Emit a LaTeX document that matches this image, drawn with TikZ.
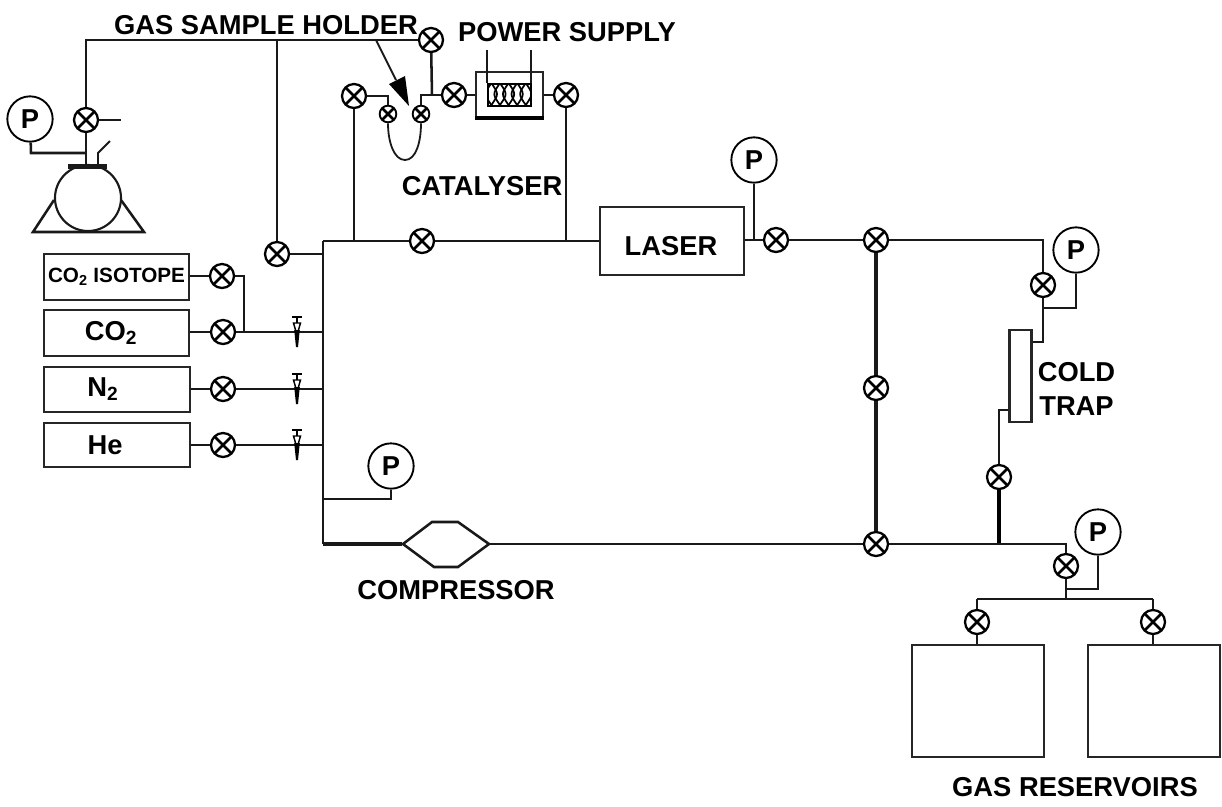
\documentclass[tikz,border=0pt]{standalone}
\usepackage{fontspec}
\setmainfont{Liberation Sans}
\usetikzlibrary{calc}
\newcommand{\lbl}{\fontsize{20.5}{24}\selectfont\bfseries}
\newcommand{\sm}{\fontsize{15.5}{18}\selectfont\bfseries}
\newcommand{\subt}[1]{\textsubscript{#1}}
\tikzset{
  x=0.75pt,y=-0.75pt,
  pipe/.style={draw=black!90,line width=1.9pt,line join=miter},
  thinpipe/.style={draw=black!90,line width=1.35pt},
  fatpipe/.style={draw=black!90,line width=2.6pt},
  box/.style={draw=black!85,line width=1.8pt,inner sep=0pt,fill=white},
  valve/.style={circle,draw=black,line width=1.7pt,fill=white,inner sep=0pt,minimum size=18pt,
    path picture={\draw[line width=1.9pt] (path picture bounding box.north west)--(path picture bounding box.south east)
      (path picture bounding box.north east)--(path picture bounding box.south west);}},
  smallvalve/.style={valve,minimum size=12.5pt,line width=1.4pt},
  gauge/.style={circle,draw=black,line width=1.4pt,fill=white,inner sep=0pt,minimum size=34pt,font=\fontsize{20.5}{24}\selectfont\bfseries},
  lab/.style={inner sep=0pt,font=\lbl},
  needle/.pic={
    \draw[line width=1.4pt] (-5,-15)--(5,-15) (0,-15)--(0,-9);
    \draw[line width=1.1pt,fill=white] (-3.5,-9)--(3.5,-9)--(0,3)--cycle;
    \fill[black] (-2.8,-2)--(2.8,-2)--(1,15)--(-1,15)--cycle;
  }
}
\begin{document}
\begin{tikzpicture}
\useasboundingbox (0,0) rectangle (1222,807);
\fill[white] (0,0) rectangle (1222,807);

% valves
\node[valve] (vtank) at (86,120) {};
\node[valve] (vtop) at (431,40) {};
\node[valve] (vleft) at (277,254) {};
\node[valve] (vcat) at (354,96) {};
\node[smallvalve] (sa) at (388,114) {};
\node[smallvalve] (sb) at (421,114) {};
\node[valve] (vin) at (454,95) {};
\node[valve] (vout) at (566,95) {};
\node[valve] (vmain) at (422,241) {};
\node[valve] (vlaser) at (776,240) {};
\node[valve] (vna) at (876,240) {};
\node[valve] (vnb) at (876,388) {};
\node[valve] (vnc) at (876,544) {};
\node[valve] (vtrapa) at (1043,285) {};
\node[valve] (vtrapb) at (999,477) {};
\node[valve] (vres) at (1066,566) {};
\node[valve] (vra) at (977,622) {};
\node[valve] (vrb) at (1153,622) {};
\node[valve] (viso) at (222,276) {};
\node[valve] (vco) at (223,332) {};
\node[valve] (vnn) at (223,389) {};
\node[valve] (vhe) at (223,445) {};

% gauges
\node[gauge] (pa) at (30,119) {P};
\node[gauge] (pb) at (754,160) {P};
\node[gauge] (pc) at (1076,250) {P};
\node[gauge] (pd) at (1098,532) {P};
\node[gauge] (pe) at (391,466) {P};

% boxes
\node[box,minimum width=108.75pt,minimum height=34.5pt,font=\sm] (biso) at (116.5,277) {CO\subt{2} ISOTOPE};
\node[box,minimum width=108.75pt,minimum height=34.5pt] (bco) at (116.5,333) {};
\node[box,minimum width=109.5pt,minimum height=33.75pt] (bnn) at (117,389.5) {};
\node[box,minimum width=109.5pt,minimum height=33pt] (bhe) at (117,445) {};
\node[lab] (tco) at (111,333) {CO\subt{2}};
\node[lab] (tnn) at (103,389) {N\subt{2}};
\node[lab] (the) at (105,445) {He};
\node[box,minimum width=108pt,minimum height=51pt] (laser) at (672,241) {};
\node[lab] (tlaser) at (671,246) {LASER};
\node[box,minimum width=50.25pt,minimum height=33.75pt] (cat) at (509.5,94.5) {};
\node[box,minimum width=16.5pt,minimum height=69pt] (trap) at (1020.5,376) {};
\node[box,minimum width=99pt,minimum height=84pt] (resa) at (978,701) {};
\node[box,minimum width=99pt,minimum height=84pt] (resb) at (1154,701) {};

% catalyser interior
\draw[black,line width=2.6pt] (cat.south west)--(cat.south east);
\node[draw=black,line width=1.4pt,minimum width=32.25pt,minimum height=16.5pt,inner sep=0pt,fill=white] (cati) at (509.5,95) {};
\begin{scope}
  \clip (cati.south west) rectangle (cati.north east);
  \foreach \k in {0,1,...,4}{
    \draw[black,line width=1.3pt] ($(cati.north west)+(4.3+\k*8.6,0)$) .. controls +(7.5,11) .. +(0,22);
    \draw[black,line width=1.3pt] ($(cati.north west)+(4.3+\k*8.6,0)$) .. controls +(-7.5,11) .. +(0,22);
  }
\end{scope}
\coordinate (wa) at (487,50);
\coordinate (wb) at (531,50);
\draw[thinpipe] (wa)--(wa|-cati.north) (wb)--(wb|-cati.north);

% tank
\coordinate (tankc) at (88,198);
\draw[pipe] (54,200)--(33,232)--(144,232)--(121,200);
\filldraw[fill=white,draw=black!90,line width=1.6pt] (tankc) circle (33);
\fill[black!90] (68,164)--(107,164)--(107,169)--(68,169)--cycle;
\coordinate (ttop) at (86,165);
\coordinate (tcor) at (31,153);
\coordinate (tjun) at (86,153);
\coordinate (stub) at (121,120);
\draw[pipe] (vtank)--(ttop);
\draw[pipe] (pa)--(tcor)--(tjun);
\draw[thinpipe] (vtank)--(stub);
\draw[thinpipe] (98,165)--(98,153)--(110,141);

% top line
\coordinate (ctl) at (86,40);
\coordinate (jleft) at (277,40);
\coordinate (jcat) at (432,95);
\draw[pipe] (vtank)--(ctl)--(jleft)--(vtop);
\draw[thinpipe] (jleft)--(vleft);
\draw[pipe] (vtop)--(jcat);

% gas sample holder pipes
\coordinate (sac) at (388,96);
\coordinate (sbc) at (421,95);
\draw[thinpipe] (vcat)--(sac)--(sa);
\draw[pipe] (sb)--(sbc)--(vin);
\draw[thinpipe] (sa.south) .. controls (388,142) and (394,160) .. (405,160) .. controls (416,160) and (421,142) .. (sb.south);
\draw[thinpipe] (vin)--(vin-|cat.west);
\draw[thinpipe] (vout-|cat.east)--(vout);
\draw[pipe] (vout)--(566,241);

% arrow
\coordinate (aroot) at (376,40);
\coordinate (atip) at (409,106);
\draw[thinpipe] (aroot)--(396,80);
\fill[black] (389,84)--(405,76)--(atip)--cycle;

% main loop
\coordinate (ml) at (323,241);
\coordinate (mb) at (323,544);
\coordinate (jcatb) at (354,241);
\coordinate (jl) at (323,254);
\draw[pipe] (ml)--(vmain);
\draw[thinpipe] (jcatb)--(vcat);
\draw[pipe] (vmain)--(vmain-|laser.west);
\draw[pipe] (vleft)--(jl);
\draw[pipe] (ml)--(mb);
\draw[pipe] (vlaser-|laser.east)--(vlaser);
\draw[thinpipe] (pb)--(754,240);
\draw[pipe] (vlaser)--(vna);
\draw[fatpipe] (vna)--(vnb);
\draw[fatpipe] (vnb)--(vnc);

% right branch
\coordinate (rc) at (1043,240);
\draw[pipe] (vna)--(rc)--(vtrapa);
\coordinate (rj) at (1043,308);
\coordinate (rg) at (1076,308);
\coordinate (rt) at (1043,342);
\draw[pipe] (vtrapa)--(rj)--(rt)--(rt-|trap.east);
\draw[pipe] (rj)--(rg)--(pc);
\coordinate (tl) at (999,410);
\draw[thinpipe] (tl-|trap.west)--(tl)--(vtrapb);
\coordinate (bj) at (999,544);
\draw[line width=2.8pt,draw=black] (vtrapb)--(bj);

% bottom line with compressor
\node[inner sep=0pt] (compw) at (403,544) {};
\node[inner sep=0pt] (compe) at (489,544) {};
\draw[fatpipe] (mb)--(compw);
\draw[pipe] (compe)--(vnc);
\draw[pipe] (vnc)--(bj);
\draw[pipe] (bj)--(1066,544)--(vres);
\draw[pipe] (403,544)--(432,522)--(458,522)--(489,544)--(458,567)--(434,567)--cycle;

% reservoirs
\coordinate (rba) at (1066,599);
\coordinate (rbg) at (1066,589);
\coordinate (rbp) at (1098,589);
\draw[pipe] (vres)--(rba);
\draw[pipe] (rbg)--(rbp)--(pd);
\coordinate (rbl) at (977,599);
\coordinate (rbr) at (1153,599);
\draw[pipe] (rbl)--(rbr);
\draw[pipe] (rbl)--(vra);
\draw[pipe] (rbr)--(vrb);
\draw[pipe] (vra)--(vra|-resa.north);
\draw[pipe] (vrb)--(vrb|-resb.north);

% lower-left gauge
\coordinate (pes) at (391,499);
\draw[pipe] (pe)--(pes)--(pes-|ml);

% gas feed
\coordinate (isoc) at (244,276);
\coordinate (isoj) at (244,332);
\draw[thinpipe] (viso-|biso.east)--(viso);
\draw[thinpipe] (viso)--(isoc)--(isoj);
\draw[thinpipe] (vco-|bco.east)--(vco);
\coordinate (fa) at (323,332);
\coordinate (fb) at (323,389);
\coordinate (fc) at (323,445);
\draw[pipe] (vco)--(fa);
\draw[thinpipe] (vnn-|bnn.east)--(vnn);
\draw[pipe] (vnn)--(fb);
\draw[thinpipe] (vhe-|bhe.east)--(vhe);
\draw[thinpipe] (vhe)--(fc);
\pic at (297,332) {needle};
\pic at (297,389) {needle};
\pic at (297,445) {needle};

% labels
\node[lab] (lgas) at (266,25) {GAS SAMPLE HOLDER};
\node[lab] (lpow) at (567,32) {POWER SUPPLY};
\node[lab] (lcat) at (482,186) {CATALYSER};
\node[lab,align=center] (lcold) at (1076.5,389) {COLD\\[1pt]TRAP};
\node[lab] (lcomp) at (456,590) {COMPRESSOR};
\node[lab] (lres) at (1075,787) {GAS RESERVOIRS};
\end{tikzpicture}
\end{document}
